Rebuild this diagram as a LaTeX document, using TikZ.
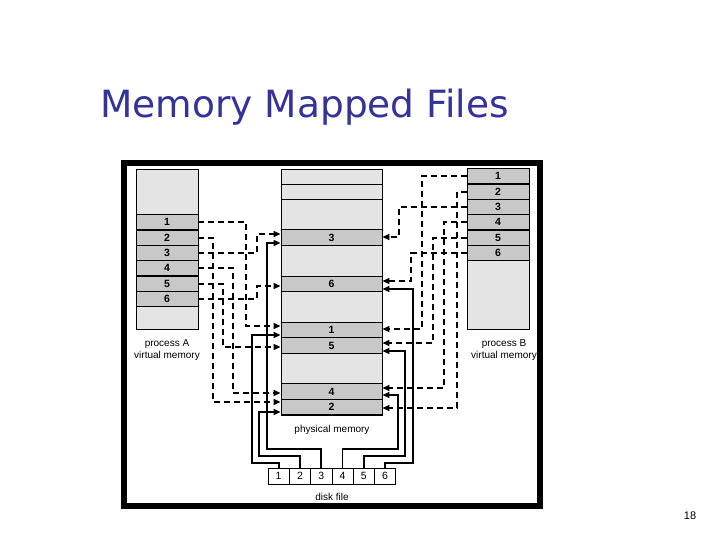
\documentclass[tikz,border=0pt]{standalone}
\usepackage{fontspec}
\setmainfont{Liberation Sans}
\newfontfamily\titlefont{DejaVu Sans}
\usetikzlibrary{arrows.meta}
\definecolor{lg}{HTML}{E4E4E4}
\definecolor{dg}{HTML}{C8C8C8}
\definecolor{tc}{HTML}{333399}
\begin{document}
\begin{tikzpicture}[x=1pt,y=-1pt,
  row/.style={draw=black,line width=0.9pt,fill=dg,minimum height=15.4pt,inner sep=0pt,font=\fontsize{10.5}{11}\selectfont\bfseries},
  arow/.style={row,minimum width=62pt},
  prow/.style={row,minimum width=101pt},
  drow/.style={draw=black,line width=0.8pt,fill=white,minimum width=21.3pt,minimum height=16pt,inner sep=0pt,font=\fontsize{10.5}{11}\selectfont},
  lbl/.style={font=\fontsize{10}{12.5}\selectfont,align=center},
  dsh/.style={line width=1.7pt,dash pattern=on 6pt off 4pt,-{Triangle[length=7pt,width=6pt]}},
  sol/.style={line width=1.7pt,-{Triangle[length=7pt,width=6pt]}}]
\useasboundingbox (0,0) rectangle (720,540);
\fill[white] (0,0) rectangle (720,540);
\node[anchor=base west,text=tc,font=\titlefont\fontsize{37.5}{40}\selectfont] (title) at (97,118) {Memory Mapped Files};
\node[font=\fontsize{11}{12}\selectfont] (pg) at (690,516) {18};
\draw[line width=6pt] (124,163) rectangle (540,506);
% process A
\draw[line width=0.9pt,fill=lg] (136,169) rectangle (198,329);
\foreach \i/\y in {1/222,2/238,3/253,4/268,5/284,6/299}{
  \node[arow] (a\i) at (167,\y) {\i};}
\node[lbl] (alab) at (167,350) {process A\\virtual memory};
% process B
\draw[line width=0.9pt,fill=lg] (467,169) rectangle (529,329);
\foreach \i/\y in {1/176,2/192,3/207,4/222,5/238,6/253}{
  \node[row,minimum width=62pt] (b\i) at (498,\y) {\i};}
\node[lbl] (blab) at (504,350) {process B\\virtual memory};
% physical memory
\draw[line width=0.9pt,fill=lg] (281,169) rectangle (382,415);
\draw[line width=0.9pt] (281,184) -- (382,184) (281,199) -- (382,199);
\foreach \n/\t/\y in {3/3/237.5,6/6/284,1/1/330,5/5/345.5,4/4/391.5,2/2/407}{
  \node[prow] (pm\n) at (331.5,\y) {\t};}
\node[lbl] (plab) at (332,430) {physical memory};
% disk
\foreach \i in {1,...,6}{
  \node[drow] (d\i) at ({268+21.3*(\i-0.5)},476) {\i};}
\node[lbl] (dlab) at (332,497) {disk file};
% process A dashed
\draw[dsh] (a1.east) -- (246,222) -- (246,326) -- (pm1.west |- 0,326);
\draw[dsh] (a2.east) -- (213,238) -- (213,402) -- (pm2.west |- 0,402);
\draw[dsh] (a3.east) -- (257,253) -- (257,234) -- (pm3.west |- 0,234);
\draw[dsh] (a4.east) -- (233,268) -- (233,393) -- (pm4.west |- 0,393);
\draw[dsh] (a5.east) -- (223,284) -- (223,347) -- (pm5.west |- 0,347);
\draw[dsh] (a6.east) -- (257,299) -- (257,286) -- (pm6.west |- 0,286);
% process B dashed
\draw[dsh] (b1.west) -- (422,176) -- (422,329) -- (pm1.east |- 0,329);
\draw[dsh] (b2.west) -- (457,192) -- (457,408) -- (pm2.east |- 0,408);
\draw[dsh] (b3.west) -- (399,207) -- (399,237) -- (pm3.east |- 0,237);
\draw[dsh] (b4.west) -- (444,222) -- (444,388) -- (pm4.east |- 0,388);
\draw[dsh] (b5.west) -- (433,238) -- (433,343) -- (pm5.east |- 0,343);
\draw[dsh] (b6.west) -- (411,253) -- (411,281) -- (pm6.east |- 0,281);
% disk solid
\draw[sol] (d1.north) -- (d1.north |- 0,463) -- (252,463) -- (252,335) -- (pm1.west |- 0,335);
\draw[sol] (d2.north) -- (d2.north |- 0,456) -- (259,456) -- (259,412) -- (pm2.west |- 0,412);
\draw[sol] (d3.north) -- (d3.north |- 0,449) -- (267,449) -- (267,243) -- (pm3.west |- 0,243);
\draw[sol] (d4.north) -- (d4.north |- 0,449) -- (398,449) -- (398,395) -- (pm4.east |- 0,395);
\draw[sol] (d5.north) -- (d5.north |- 0,456) -- (405,456) -- (405,351) -- (pm5.east |- 0,351);
\draw[sol] (d6.north) -- (d6.north |- 0,463) -- (413,463) -- (413,289) -- (pm6.east |- 0,289);
\end{tikzpicture}
\end{document}
